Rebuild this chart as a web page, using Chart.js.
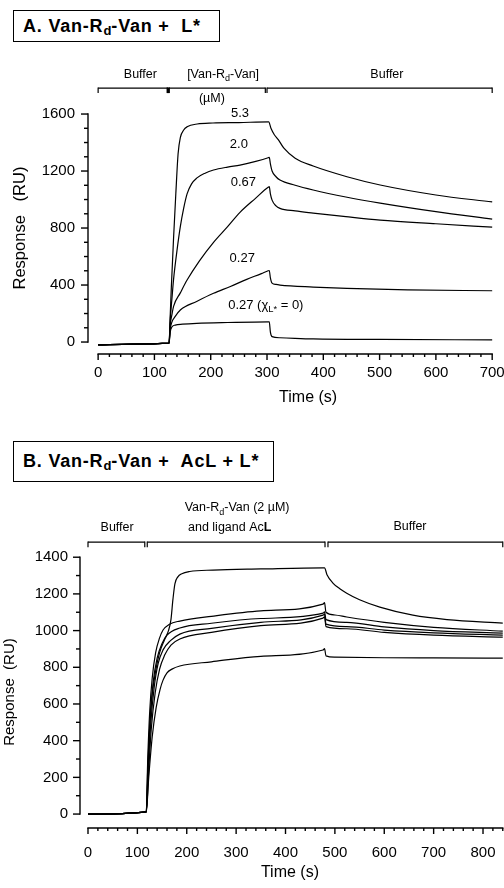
<!DOCTYPE html>
<html lang="en">
<head>
  <meta charset="utf-8">
  <title>Van-Rd-Van sensorgrams</title>
  <script src="https://cdn.jsdelivr.net/npm/chart.js@4.4.1/dist/chart.umd.min.js"></script>
  <style>
    body { margin: 0; background: #fff; width: 504px; height: 888px; position: relative; overflow: hidden;
           font-family: "Liberation Sans", Arial, Helvetica, sans-serif; }
    .panel-title { position: absolute; border: 1.5px solid #000; box-sizing: border-box; font-weight: bold;
                   font-size: 18px; letter-spacing: 0.8px; padding-left: 9px; display: flex; align-items: center;
                   white-space: pre; }
    .panel-title .sub { font-size: 0.72em; position: relative; top: 0.32em; letter-spacing: 0; }
    .chart-box { position: absolute; left: 0; width: 504px; }
  </style>
</head>
<body>

  <div class="panel-title" style="left:13px; top:10px; width:207px; height:32px;">A. Van-R<span class="sub">d</span>-Van +  L*</div>
  <div class="chart-box" style="top:50px; height:360px;"><canvas id="chartA"></canvas></div>

  <div class="panel-title" style="left:13px; top:441px; width:261px; height:41px;">B. Van-R<span class="sub">d</span>-Van +  AcL + L*</div>
  <div class="chart-box" style="top:480px; height:408px;"><canvas id="chartB"></canvas></div>

<script>
// ---- data (time s, response RU) ----
const xTicksA = [0, 100, 200, 300, 400, 500, 600, 700];
const yTicksA = [0, 400, 800, 1200, 1600];
const xTicksB = [0, 100, 200, 300, 400, 500, 600, 700, 800];
const yTicksB = [0, 200, 400, 600, 800, 1000, 1200, 1400];

// panel A: [Van-Rd-Van] 5.3, 2.0, 0.67, 0.27 uM, and 0.27 uM without L*
const conc53 = [[0,-20],[60,-14],[126,-8],[128,180],[130,380],[134,730],[138,1040],[142,1320],[146,1435],[152,1488],
  [158,1510],[176,1530],[204,1537],[250,1540],[303,1545],[307,1500],[313,1455],[320,1420],[330,1360],[350,1290],
  [382,1235],[442,1160],[501,1102],[600,1032],[700,983]];
const conc20 = [[0,-20],[60,-14],[126,-8],[128,150],[131,300],[134,440],[140,640],[146,810],[152,940],[158,1040],
  [166,1110],[175,1150],[190,1185],[205,1207],[230,1228],[252,1242],[280,1268],[302,1293],[304,1296],[306,1250],
  [309,1200],[316,1160],[323,1137],[350,1100],[382,1067],[440,1018],[501,975],[600,915],[700,863]];
const conc067 = [[0,-20],[60,-14],[126,-8],[128,120],[131,190],[134,250],[146,345],[158,435],[180,570],[205,700],
  [230,810],[252,910],[280,1010],[302,1086],[304,1090],[306,1040],[309,996],[316,955],[323,938],[350,920],
  [382,905],[440,880],[501,856],[600,830],[700,806]];
const conc027 = [[0,-20],[60,-14],[126,-8],[128,90],[131,140],[136,175],[146,225],[175,285],[205,342],[235,390],
  [264,440],[290,480],[302,500],[304,502],[306,450],[309,413],[316,404],[323,400],[382,386],[442,376],[550,366],[700,360]];
const conc027noL = [[0,-20],[60,-14],[126,-8],[128,70],[131,105],[137,119],[150,125],[175,131],[230,137],[302,142],
  [304,142],[306,70],[309,38],[323,30],[382,22],[500,18],[700,15]];

// panel B: Van-Rd-Van (2 uM) with ligand AcL, six runs
const runB1 = [[0,0],[118,12],[121,250],[125,480],[130,650],[137,780],[145,880],[155,950],[163,1000],[168,1060],
  [172,1170],[176,1255],[182,1293],[190,1310],[206,1322],[253,1330],[350,1336],[476,1342],[479,1342],[484,1305],
  [496,1259],[510,1228],[524,1204],[550,1168],[591,1128],[658,1084],[727,1060],[840,1041]];
const runB2 = [[0,0],[118,12],[121,300],[125,560],[130,740],[137,880],[145,960],[152,1003],[165,1035],[186,1052],
  [250,1078],[350,1108],[476,1144],[479,1152],[482,1100],[500,1085],[524,1074],[600,1045],[700,1018],[840,997]];
const runB3 = [[0,0],[118,12],[122,280],[126,520],[132,720],[140,850],[150,930],[160,975],[186,1014],[250,1040],
  [350,1066],[476,1095],[479,1102],[482,1060],[524,1045],[600,1020],[700,1000],[840,986]];
const runB4 = [[0,0],[118,12],[122,260],[127,490],[134,690],[142,820],[152,895],[167,945],[186,981],[250,1012],
  [350,1045],[476,1084],[479,1090],[482,1035],[524,1022],[600,1003],[700,988],[840,975]];
const runB5 = [[0,0],[118,12],[123,240],[128,460],[136,660],[145,790],[155,865],[168,921],[186,954],[250,990],
  [350,1027],[476,1068],[479,1075],[482,1022],[524,1010],[600,990],[700,975],[840,964]];
const runB6 = [[0,0],[118,12],[123,200],[130,420],[138,580],[146,680],[152,730],[160,770],[170,790],[186,807],
  [250,830],[350,860],[476,894],[479,902],[482,862],[500,855],[600,852],[700,851],[840,850]];

const FONT = '"Liberation Sans", Arial, Helvetica, sans-serif';

// draw text made of pieces, some of them subscript / bold
function drawRich(ctx, x, y, parts, size, align) {
  const fontFor = p => (p.bold ? 'bold ' : '') + (p.sub ? size * 0.72 : size) + 'px ' + FONT;
  let w = 0;
  parts.forEach(p => { ctx.font = fontFor(p); w += ctx.measureText(p.t).width; });
  let cx = align === 'left' ? x : x - w / 2;
  ctx.textAlign = 'left';
  ctx.textBaseline = 'middle';
  ctx.fillStyle = '#000';
  parts.forEach(p => {
    ctx.font = fontFor(p);
    ctx.fillText(p.t, cx, y + (p.sub ? size * 0.32 : 0));
    cx += ctx.measureText(p.t).width;
  });
}

// old style axes: detached lines, minor ticks, injection brackets, labels
const sciAxes = {
  id: 'sciAxes',
  afterDraw(chart, args, o) {
    const ctx = chart.ctx;
    const X = v => chart.scales.x.getPixelForValue(v);
    const Y = v => chart.scales.y.getPixelForValue(v);
    const seg = (x1, y1, x2, y2) => { ctx.beginPath(); ctx.moveTo(x1, y1); ctx.lineTo(x2, y2); ctx.stroke(); };
    ctx.save();
    ctx.strokeStyle = '#000';
    ctx.lineWidth = 1.4;

    const ax = chart.chartArea.left;
    seg(ax, Y(o.yRange[0]) + 0.7, ax, Y(o.yRange[1]) - 0.7);
    for (let v = o.yRange[0]; v <= o.yRange[1]; v += o.yMinor) {
      seg(ax - (v % o.yMajor === 0 ? 7 : 4), Y(v), ax, Y(v));
    }
    const ay = chart.chartArea.bottom;
    seg(X(o.xRange[0]) - 0.7, ay, X(o.xRange[1]) + 0.7, ay);
    for (let v = o.xRange[0]; v <= o.xRange[1]; v += o.xMinor) {
      seg(X(v), ay, X(v), ay + (v % o.xMajor === 0 ? 6 : 3));
    }

    ctx.lineWidth = 1.2;
    o.brackets.forEach(b => {
      const y = Y(b.y);
      seg(X(b.from), y, X(b.to), y);
      seg(X(b.from), y - 0.6, X(b.from), y + 5);
      seg(X(b.to), y - 0.6, X(b.to), y + 5);
    });
    (o.marks || []).forEach(m => {
      ctx.fillStyle = '#000';
      ctx.fillRect(X(m.at) - 1.5, Y(m.y) - 0.6, 3, 5.6);
    });

    o.labels.forEach(l => drawRich(ctx, X(l.x), Y(l.y), l.parts, l.size, l.align));

    drawRich(ctx, X(o.xTitle.at), ay + o.xTitle.dy, [{t: o.xTitle.text}], o.xTitle.size, 'center');
    ctx.save();
    ctx.translate(o.yTitle.x, Y(o.yTitle.at));
    ctx.rotate(-Math.PI / 2);
    drawRich(ctx, 0, 0, [{t: o.yTitle.text}], o.yTitle.size, 'center');
    ctx.restore();
    ctx.restore();
  }
};

function makeChart(id, series, c) {
  const tickFont = {family: FONT, size: 15};
  return new Chart(document.getElementById(id), {
    type: 'line',
    data: {
      datasets: series.map(s => ({
        data: s.map(p => ({x: p[0], y: p[1]})),
        borderColor: '#000', borderWidth: 1.2, pointRadius: 0, fill: false,
        cubicInterpolationMode: 'monotone'
      }))
    },
    options: {
      responsive: true, maintainAspectRatio: false, animation: false,
      layout: {padding: c.padding},
      plugins: {legend: {display: false}, tooltip: {enabled: false}, sciAxes: c.deco},
      scales: {
        x: {
          type: 'linear', min: c.xMin, max: c.xMax,
          grid: {display: false, drawTicks: false}, border: {display: false},
          ticks: {font: tickFont, color: '#000', padding: c.xPad, autoSkip: false, maxRotation: 0,
                  callback: v => String(v)},
          afterBuildTicks: s => { s.ticks = c.xTicks.map(v => ({value: v})); },
          afterFit: s => { s.height = c.xHeight; s.paddingLeft = 0; s.paddingRight = 0; }
        },
        y: {
          type: 'linear', min: c.yMin, max: c.yMax,
          grid: {display: false, drawTicks: false}, border: {display: false},
          ticks: {font: tickFont, color: '#000', padding: c.yPad, callback: v => String(v)},
          afterBuildTicks: s => { s.ticks = c.yTicks.map(v => ({value: v})); },
          afterFit: s => { s.width = c.yWidth; s.paddingTop = 0; s.paddingBottom = 0; }
        }
      }
    },
    plugins: [sciAxes]
  });
}

makeChart('chartA', [conc53, conc20, conc067, conc027, conc027noL], {
  padding: {top: 21, left: 0, right: 9, bottom: 0},
  xMin: -18, xMax: 705, yMin: -84, yMax: 1902,
  xTicks: xTicksA, yTicks: yTicksA, xPad: 10, yPad: 13, xHeight: 56, yWidth: 88,
  deco: {
    xRange: [0, 700], xMinor: 20, xMajor: 100,
    yRange: [0, 1600], yMinor: 100, yMajor: 400,
    brackets: [{from: 0, to: 123, y: 1782}, {from: 126, to: 297, y: 1782}, {from: 300, to: 700, y: 1782}],
    marks: [{at: 124.5, y: 1782}],
    labels: [
      {x: 75, y: 1874, size: 12.5, parts: [{t: 'Buffer'}]},
      {x: 222, y: 1874, size: 12.5, parts: [{t: '[Van-R'}, {t: 'd', sub: true}, {t: '-Van]'}]},
      {x: 202, y: 1712, size: 12.5, parts: [{t: '(\u00b5M)'}]},
      {x: 513, y: 1874, size: 12.5, parts: [{t: 'Buffer'}]},
      {x: 252, y: 1607, size: 13, parts: [{t: '5.3'}]},
      {x: 250, y: 1389, size: 13, parts: [{t: '2.0'}]},
      {x: 258, y: 1123, size: 13, parts: [{t: '0.67'}]},
      {x: 256, y: 589, size: 13, parts: [{t: '0.27'}]},
      {x: 231, y: 260, size: 13, align: 'left', parts: [{t: '0.27 (\u03c7'}, {t: 'L*', sub: true}, {t: ' = 0)'}]}
    ],
    xTitle: {text: 'Time (s)', at: 373, dy: 44, size: 16},
    yTitle: {text: 'Response   (RU)', at: 800, x: 20, size: 16.5}
  }
});

makeChart('chartB', [runB1, runB2, runB3, runB4, runB5, runB6], {
  padding: {top: 13, left: 0, right: 0, bottom: 0},
  xMin: -16.2, xMax: 842.5, yMin: -76, yMax: 1750,
  xTicks: xTicksB, yTicks: yTicksB, xPad: 16, yPad: 12, xHeight: 60, yWidth: 80,
  deco: {
    xRange: [0, 840], xMinor: 20, xMajor: 100,
    yRange: [0, 1400], yMinor: 100, yMajor: 200,
    brackets: [{from: 0, to: 115, y: 1482}, {from: 120, to: 480, y: 1482}, {from: 486, to: 840, y: 1482}],
    labels: [
      {x: 59, y: 1559, size: 12.5, parts: [{t: 'Buffer'}]},
      {x: 302, y: 1668, size: 12.5, parts: [{t: 'Van-R'}, {t: 'd', sub: true}, {t: '-Van (2 \u00b5M)'}]},
      {x: 287, y: 1559, size: 12.5, parts: [{t: 'and ligand Ac'}, {t: 'L', bold: true}]},
      {x: 652, y: 1569, size: 12.5, parts: [{t: 'Buffer'}]}
    ],
    xTitle: {text: 'Time (s)', at: 409, dy: 45, size: 16},
    yTitle: {text: 'Response  (RU)', at: 665, x: 10, size: 15}
  }
});
</script>
</body>
</html>
